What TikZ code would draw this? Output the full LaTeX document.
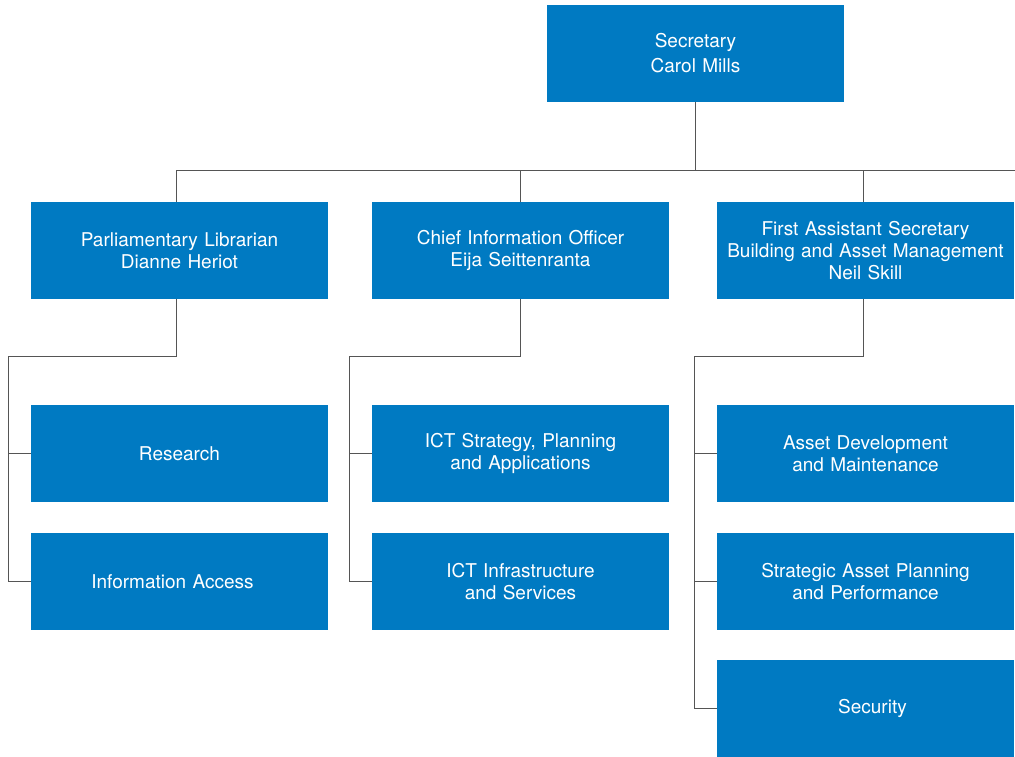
\documentclass[tikz,border=0pt]{standalone}
\usepackage{fontspec}
\setmainfont{TeX Gyre Heros}
\definecolor{unitblue}{HTML}{007AC2}
\definecolor{linkgray}{HTML}{555555}

\begin{document}
\begin{tikzpicture}[
		x=1pt, y=-1pt,
		unit/.style={fill=unitblue, text=white, inner sep=0pt,
			minimum width=297pt, minimum height=97pt, text width=292pt,
			align=center, font=\fontsize{19}{22}\selectfont},
		link/.style={draw=linkgray, line width=0.9pt}
	]
		\useasboundingbox (0,0) rectangle (1015,756);

		% Top
		\node[unit, font=\fontsize{19}{25}\selectfont] (sec) at (695.5,53.5) {Secretary\\Carol Mills};

		% Second row
		\node[unit] (lib) at (179.5,250.5) {Parliamentary Librarian\\Dianne Heriot};
		\node[unit] (cio) at (520.5,250.5) {Chief Information Officer\\Eija Seittenranta};
		\node[unit] (fas) at (865.5,250.5) {First Assistant Secretary\\Building and Asset Management\\Neil Skill};

		% Library branches
		\node[unit] (res) at (179.5,453.5) {Research};
		\node[unit] (info) at (179.5,581.5) {\hspace*{-14pt}Information Access};

		% ICT branches
		\node[unit] (ictsp) at (520.5,453.5) {ICT Strategy, Planning\\and Applications};
		\node[unit] (ictis) at (520.5,581.5) {ICT Infrastructure\\and Services};

		% Building branches
		\node[unit] (adm) at (865.5,453.5) {Asset Development\\and Maintenance};
		\node[unit] (sap) at (865.5,581.5) {Strategic Asset Planning\\and Performance};
		\node[unit] (secu) at (865.5,708.5) {\hspace*{14pt}Security};

		% Bus lines
		\coordinate (busR) at (1015,170);
		\coordinate (libL) at (8,356);
		\coordinate (cioL) at (349,356);
		\coordinate (fasL) at (694,356);

		% Links
		\draw[link] (sec.south) -- (sec.south |- busR);
		\draw[link] ([xshift=-3.5pt]lib.north) |- (busR);
		\draw[link] (cio.north) -- (cio.north |- busR);
		\draw[link] ([xshift=-2.5pt]fas.north) -- ([xshift=-2.5pt]fas.north |- busR);

		\draw[link] ([xshift=-3.5pt]lib.south) |- (libL) |- (info.west);
		\draw[link] (libL |- res.west) -- (res.west);

		\draw[link] (cio.south) |- (cioL) |- (ictis.west);
		\draw[link] (cioL |- ictsp.west) -- (ictsp.west);

		\draw[link] ([xshift=-2.5pt]fas.south) |- (fasL) |- (secu.west);
		\draw[link] (fasL |- adm.west) -- (adm.west);
		\draw[link] (fasL |- sap.west) -- (sap.west);
	\end{tikzpicture}
\end{document}
